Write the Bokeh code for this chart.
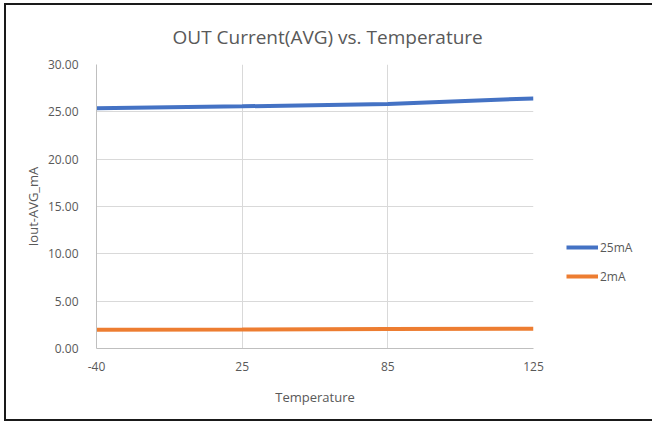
from bokeh.plotting import figure
from bokeh.models import (Range1d, FixedTicker, PrintfTickFormatter, Legend,
                          LegendItem, ColumnDataSource)
from bokeh.embed import file_html
from bokeh.resources import INLINE

categories = ["-40", "25", "85", "125"]
s25 = [25.38, 25.58, 25.83, 26.42]
s2 = [1.97, 2.00, 2.07, 2.08]
y_ticks = [0, 5, 10, 15, 20, 25, 30]
series_names = ["25mA", "2mA"]
colors = ["#4472C4", "#ED7D31"]

FONT = "Open Sans"
GREY = "#595959"

xs = list(range(len(categories)))
src = ColumnDataSource(dict(x=xs, s25=s25, s2=s2))

p = figure(frame_width=437, frame_height=284, output_backend="svg",
           toolbar_location=None,
           x_range=Range1d(0, len(categories) - 1), y_range=Range1d(0, 30),
           min_border_left=90, min_border_right=116, min_border_top=59,
           min_border_bottom=71,
           title="OUT Current(AVG) vs. Temperature")
p.outline_line_color = None
p.styles = {"border": "2px solid #1a1a1a", "margin-left": "4px",
            "margin-top": "3px"}

p.title.align = "left"
p.title.offset = 76
p.title.standoff = 30
p.title.text_font = FONT
p.title.text_font_size = "19px"
p.title.text_font_style = "normal"
p.title.text_color = GREY

r1 = p.line("x", "s25", source=src, line_color=colors[0], line_width=4)
r2 = p.line("x", "s2", source=src, line_color=colors[1], line_width=4)

p.xaxis.ticker = FixedTicker(ticks=xs)
p.xaxis.major_label_overrides = {i: c for i, c in enumerate(categories)}
p.yaxis.ticker = FixedTicker(ticks=y_ticks)
p.yaxis.formatter = PrintfTickFormatter(format="%.2f")

for ax in (p.xaxis[0], p.yaxis[0]):
    ax.major_tick_line_color = None
    ax.minor_tick_line_color = None
    ax.axis_line_color = "#BFBFBF"
    ax.major_label_text_font = FONT
    ax.major_label_text_font_size = "12px"
    ax.major_label_text_color = GREY
    ax.axis_label_text_font = FONT
    ax.axis_label_text_font_size = "13px"
    ax.axis_label_text_color = GREY
    ax.axis_label_text_font_style = "normal"

p.xaxis.axis_label = "Temperature"
p.yaxis.axis_label = "Iout-AVG_mA"
p.xaxis.major_label_standoff = 7
p.yaxis.major_label_standoff = 12
p.xaxis.axis_label_standoff = 14
p.yaxis.axis_label_standoff = 3

p.xgrid.ticker = FixedTicker(ticks=xs)
p.ygrid.ticker = FixedTicker(ticks=y_ticks)
p.grid.grid_line_color = "#D9D9D9"
p.grid.grid_line_width = 1

legend = Legend(items=[LegendItem(label=series_names[0], renderers=[r1]),
                       LegendItem(label=series_names[1], renderers=[r2])],
                location=(33, 62), orientation="vertical")
legend.border_line_color = None
legend.background_fill_alpha = 0
legend.label_text_font = FONT
legend.label_text_font_size = "12px"
legend.label_text_color = GREY
legend.glyph_width = 32
legend.glyph_height = 20
legend.label_height = 20
legend.label_standoff = 2
legend.spacing = 9
legend.padding = 0
legend.margin = 0
p.add_layout(legend, "right")

open("out.html", "w").write(file_html(p, INLINE))
